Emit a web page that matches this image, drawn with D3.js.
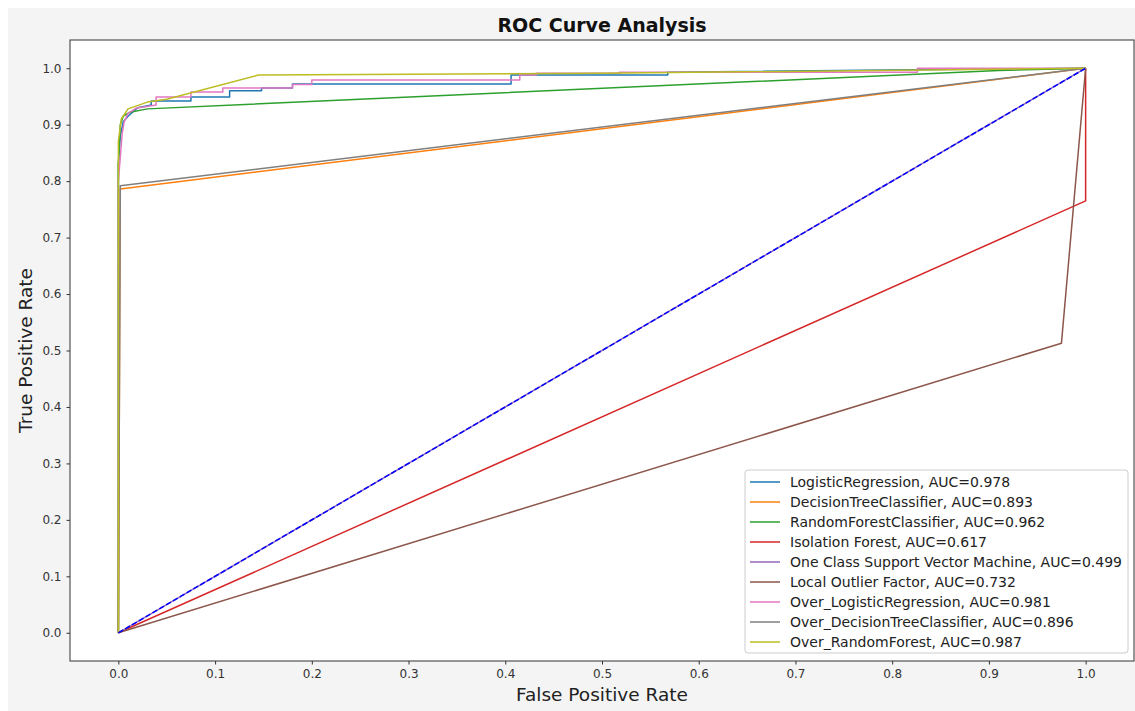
<!DOCTYPE html>
<html>
<head>
<meta charset="utf-8">
<script src="https://d3js.org/d3.v7.min.js"></script>
<style>
  body { margin: 0; background: #ffffff; font-family: "DejaVu Sans", sans-serif; }
  .tick text { font-family: "DejaVu Sans", sans-serif; font-size: 12px; fill: #333; }
  .tick line { stroke: #333; }
</style>
</head>
<body>
<svg id="chart" width="1135" height="711"></svg>
<script>
// series names + AUC
var names = ["LogisticRegression", "DecisionTreeClassifier", "RandomForestClassifier",
  "Isolation Forest", "One Class Support Vector Machine", "Local Outlier Factor",
  "Over_LogisticRegression", "Over_DecisionTreeClassifier", "Over_RandomForest"];
var aucs = [0.978, 0.893, 0.962, 0.617, 0.499, 0.732, 0.981, 0.896, 0.987];
var colors = ["#1f77b4", "#ff7f0e", "#2ca02c", "#d62728", "#9467bd", "#8c564b", "#e377c2", "#7f7f7f", "#bcbd22"];

// roc points (fpr / tpr)
var lrFpr = [0, 0, 0.002, 0.005, 0.01, 0.02, 0.034, 0.034, 0.075, 0.075, 0.115, 0.115, 0.148, 0.148, 0.18, 0.18, 0.406, 0.406, 0.568, 0.568, 1];
var lrTpr = [0, 0.83, 0.88, 0.905, 0.915, 0.93, 0.935, 0.942, 0.942, 0.949, 0.949, 0.96, 0.96, 0.965, 0.965, 0.972, 0.972, 0.988, 0.988, 0.993, 1];
var dtFpr = [0, 0.002, 1];
var dtTpr = [0, 0.786, 1];
var rfFpr = [0, 0, 0.002, 0.005, 0.012, 0.03, 0.91, 1];
var rfTpr = [0, 0.83, 0.9, 0.915, 0.922, 0.928, 0.996, 1];
var ifFpr = [0, 1, 1];
var ifTpr = [0, 0.765, 1];
var svmFpr = [0, 1];
var svmTpr = [0, 1];
var lofFpr = [0, 0.975, 1];
var lofTpr = [0, 0.513, 1];
var olrFpr = [0, 0, 0.004, 0.006, 0.01, 0.018, 0.039, 0.039, 0.075, 0.075, 0.108, 0.108, 0.18, 0.18, 0.2, 0.2, 0.415, 0.415, 0.432, 0.432, 0.518, 0.518, 0.826, 0.826, 1];
var olrTpr = [0, 0.8, 0.885, 0.905, 0.92, 0.929, 0.935, 0.949, 0.949, 0.958, 0.958, 0.965, 0.965, 0.971, 0.971, 0.979, 0.979, 0.988, 0.988, 0.991, 0.991, 0.993, 0.993, 1, 1];
var odtFpr = [0, 0.002, 1];
var odtTpr = [0, 0.792, 1];
var orfFpr = [0, 0, 0.003, 0.01, 0.03, 0.05, 0.145, 0.5, 1];
var orfTpr = [0, 0.87, 0.91, 0.928, 0.94, 0.945, 0.988, 0.991, 1];

var fprs = [lrFpr, dtFpr, rfFpr, ifFpr, svmFpr, lofFpr, olrFpr, odtFpr, orfFpr];
var tprs = [lrTpr, dtTpr, rfTpr, ifTpr, svmTpr, lofTpr, olrTpr, odtTpr, orfTpr];

var xTicks = [0, 0.1, 0.2, 0.3, 0.4, 0.5, 0.6, 0.7, 0.8, 0.9, 1.0];
var yTicks = [0, 0.1, 0.2, 0.3, 0.4, 0.5, 0.6, 0.7, 0.8, 0.9, 1.0];

var margin = { left: 70, top: 40, right: 1, bottom: 50 };
var width = 1135 - margin.left - margin.right,
  height = 711 - margin.top - margin.bottom;

var svg = d3.select("#chart");

// figure background
svg.append("rect")
  .attr("x", 8).attr("y", 8)
  .attr("width", 1135 - 8).attr("height", 711 - 8)
  .attr("fill", "#f4f4f4");

var g = svg.append("g")
  .attr("transform", "translate(" + margin.left + "," + margin.top + ")");

g.append("rect")
  .attr("width", width).attr("height", height)
  .attr("fill", "#ffffff");

var x = d3.scaleLinear().domain([-0.05, 1.05]).range([0, width]);
var y = d3.scaleLinear().domain([-0.05, 1.05]).range([height, 0]);

var line = d3.line()
  .x(d => x(d[0]))
  .y(d => y(d[1]));

var series = names.map(function(n, i) {
  return {
    name: n,
    auc: aucs[i],
    color: colors[i],
    pts: fprs[i].map((f, j) => [f, tprs[i][j]])
  };
});

g.selectAll(".roc")
  .data(series)
  .enter()
  .append("path")
  .attr("class", "roc")
  .attr("d", d => line(d.pts))
  .attr("fill", "none")
  .attr("stroke", d => d.color)
  .attr("stroke-width", 1.5)
  .attr("stroke-linejoin", "round");

// chance line
g.append("path")
  .attr("d", line([[0, 0], [1, 1]]))
  .attr("fill", "none")
  .attr("stroke", "#0000ff")
  .attr("stroke-width", 1.5)
  .attr("stroke-dasharray", "5.5,2.4");

// axes
var xAxis = d3.axisBottom(x).tickValues(xTicks).tickFormat(d3.format(".1f")).tickSize(3.5).tickPadding(5);
var yAxis = d3.axisLeft(y).tickValues(yTicks).tickFormat(d3.format(".1f")).tickSize(3.5).tickPadding(5);

var gx = g.append("g").attr("transform", "translate(0," + height + ")").call(xAxis);
var gy = g.append("g").call(yAxis);
gx.select(".domain").remove();
gy.select(".domain").remove();

g.append("rect")
  .attr("width", width).attr("height", height)
  .attr("fill", "none")
  .attr("stroke", "#333")
  .attr("stroke-width", 1);

// title + labels
svg.append("text")
  .attr("x", margin.left + width / 2).attr("y", 32)
  .attr("text-anchor", "middle")
  .style("font-size", "19px").style("font-weight", "bold")
  .attr("fill", "#111")
  .text("ROC Curve Analysis");

svg.append("text")
  .attr("x", margin.left + width / 2).attr("y", 701)
  .attr("text-anchor", "middle")
  .style("font-size", "18.5px")
  .attr("fill", "#222")
  .text("False Positive Rate");

svg.append("text")
  .attr("transform", "translate(32," + (margin.top + height / 2) + ") rotate(-90)")
  .attr("text-anchor", "middle")
  .style("font-size", "18.5px")
  .attr("fill", "#222")
  .text("True Positive Rate");

// legend
var lg = g.append("g").attr("transform", "translate(" + (745 - margin.left) + "," + (470 - margin.top) + ")");
lg.append("rect")
  .attr("width", 383).attr("height", 183)
  .attr("rx", 3)
  .attr("fill", "#ffffff").attr("fill-opacity", 0.8)
  .attr("stroke", "#cccccc");

var rows = lg.selectAll(".lrow")
  .data(series)
  .enter()
  .append("g")
  .attr("class", "lrow")
  .attr("transform", (d, i) => "translate(0," + (12 + i * 20) + ")");

rows.append("line")
  .attr("x1", 5).attr("x2", 35)
  .attr("stroke", d => d.color)
  .attr("stroke-width", 1.5);

rows.append("text")
  .attr("x", 45).attr("y", 5)
  .style("font-size", "14px")
  .attr("fill", "#222")
  .text(d => d.name + ", AUC=" + d.auc.toFixed(3));
</script>
</body>
</html>
